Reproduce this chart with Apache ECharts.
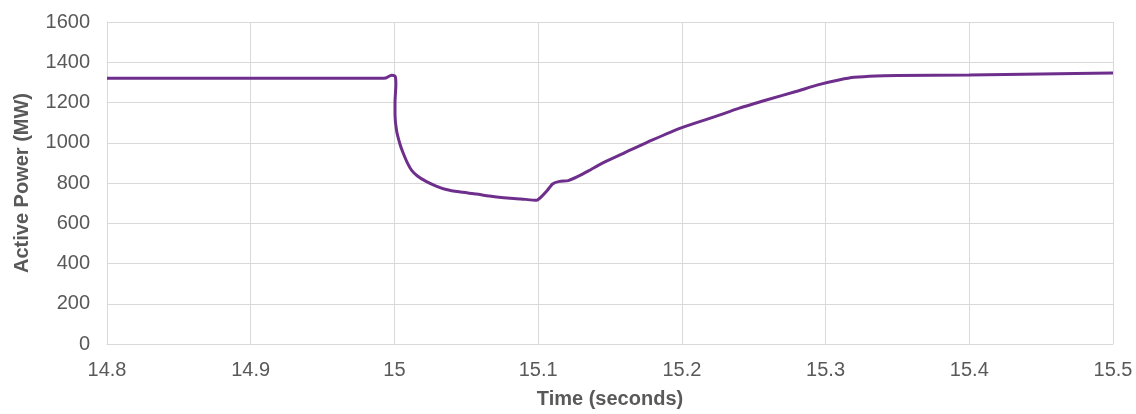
<!DOCTYPE html>
<html>
<head>
<meta charset="utf-8">
<script src="https://cdn.jsdelivr.net/npm/echarts@6/dist/echarts.min.js"></script>
<style>
  html, body { margin: 0; padding: 0; background: #ffffff; }
  #chart { width: 1136px; height: 414px; }
</style>
</head>
<body>
<div id="chart"></div>
<script>
// time in seconds, active power in MW
const timeSec = [
  14.8, 14.9, 14.99, 14.994, 14.998, 15.0005, 15.001, 15.0004, 15.0004, 15.0015,
  15.004, 15.006, 15.009, 15.012, 15.016, 15.022, 15.029, 15.036, 15.045, 15.057,
  15.066, 15.076, 15.088, 15.099, 15.102, 15.106, 15.110, 15.115, 15.121, 15.127,
  15.135, 15.145, 15.16, 15.18, 15.20, 15.222, 15.24, 15.26, 15.28, 15.296,
  15.31, 15.32, 15.335, 15.35, 15.4, 15.45, 15.5
];
const powerMW = [
  1320, 1320, 1320, 1322, 1336, 1330, 1290, 1200, 1140, 1060,
  990, 950, 900, 863, 835, 808, 785, 768, 756, 745,
  735, 727, 721, 714, 730, 760, 795, 808, 812, 830,
  860, 900, 950, 1015, 1075, 1127, 1172, 1215, 1256, 1290,
  1313, 1325, 1332, 1334, 1337, 1342, 1347
];

const xMin = 14.8, xMax = 15.5, xStep = 0.1;
const yMin = 0, yMax = 1600, yStep = 200;

const textColor = '#595959';
const gridColor = '#d9d9d9';
const lineColor = '#6e2f8c';
const font = 'Liberation Sans, Arial, sans-serif';

const chart = echarts.init(document.getElementById('chart'), null, { renderer: 'canvas' });

chart.setOption({
  animation: false,
  backgroundColor: '#ffffff',
  grid: { left: 107, right: 23, top: 22, bottom: 66, containLabel: false },
  xAxis: {
    type: 'value',
    min: xMin,
    max: xMax,
    interval: xStep,
    name: 'Time (seconds)',
    nameLocation: 'middle',
    nameGap: 45,
    nameTextStyle: { color: textColor, fontSize: 20, fontWeight: 'bold', fontFamily: font },
    axisLine: { show: true, lineStyle: { color: gridColor, width: 1 } },
    axisTick: { show: false },
    axisLabel: {
      color: textColor, fontSize: 20, fontFamily: font, margin: 16,
      formatter: v => String(parseFloat(v.toFixed(1)))
    },
    splitLine: { show: true, lineStyle: { color: gridColor, width: 1 } }
  },
  yAxis: {
    type: 'value',
    min: yMin,
    max: yMax,
    interval: yStep,
    name: 'Active Power (MW)',
    nameLocation: 'middle',
    nameGap: 75,
    nameTextStyle: { color: textColor, fontSize: 20, fontWeight: 'bold', fontFamily: font },
    axisLine: { show: true, lineStyle: { color: gridColor, width: 1 } },
    axisTick: { show: false },
    axisLabel: {
      color: textColor, fontSize: 20, fontFamily: font, margin: 17,
      formatter: v => String(Math.round(v))
    },
    splitLine: { show: true, lineStyle: { color: gridColor, width: 1 } }
  },
  series: [{
    type: 'line',
    data: timeSec.map((t, i) => [t, powerMW[i]]),
    showSymbol: false,
    smooth: 0.2,
    lineStyle: { color: lineColor, width: 3 },
    itemStyle: { color: lineColor }
  }]
});
</script>
</body>
</html>
